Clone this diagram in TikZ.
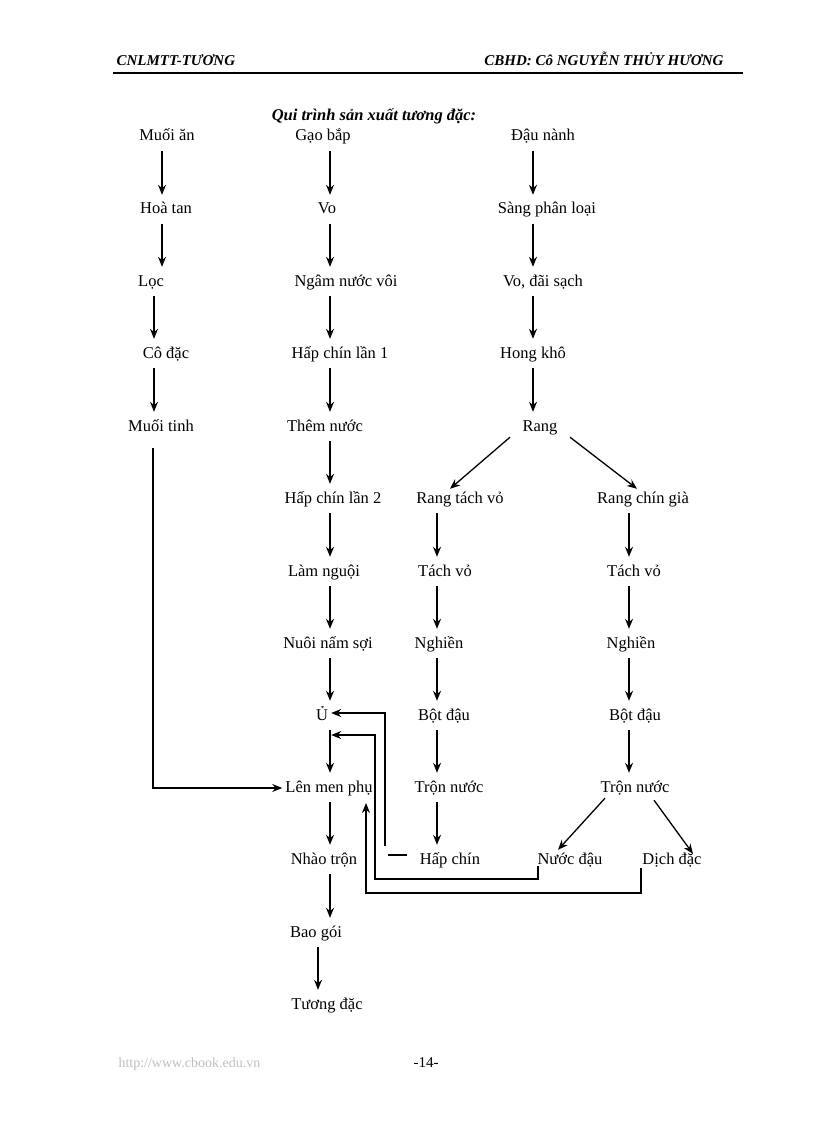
\documentclass[tikz,border=0pt]{standalone}
\usepackage{fontspec}
\setmainfont{Liberation Serif}
\usetikzlibrary{arrows.meta}
\begin{document}
\begin{tikzpicture}[x=1pt,y=-1pt,
 t/.style={font=\fontsize{16.5}{18}\selectfont,inner sep=0pt,text height=12pt,text depth=4pt,inner ysep=4pt},
 arr/.style={-{Stealth[length=10pt,width=8pt]},line width=1.3pt,shorten <=2pt,shorten >=3pt},
 ln/.style={line width=1.3pt}]
\useasboundingbox (0,0) rectangle (816,1123);
\node[font=\fontsize{15}{17}\selectfont\bfseries\itshape,anchor=base west] (h1) at (113,66) {CNLMTT-TƯƠNG};
\node[font=\fontsize{15}{17}\selectfont\bfseries\itshape,anchor=base east] (h2) at (727,66) {CBHD: Cô NGUYỄN THỦY HƯƠNG};
\draw[line width=1.2pt] (113,73) -- (743,73);
\node[font=\fontsize{16.5}{18}\selectfont\bfseries\itshape] (ti) at (374,116) {Qui trình sản xuất tương đặc:};
% col1
\node[t] (a1) at (167,137) {Muối ăn};
\node[t] (a2) at (166,210) {Hoà tan};
\node[t] (a3) at (151,282) {Lọc};
\node[t] (a4) at (166,354) {Cô đặc};
\node[t] (a5) at (161,427) {Muối tinh};
% col2
\node[t] (b1) at (323,137) {Gạo bắp};
\node[t] (b2) at (327,210) {Vo};
\node[t] (b3) at (346,282) {Ngâm nước vôi};
\node[t] (b4) at (340,354) {Hấp chín lần 1};
\node[t] (b5) at (325,427) {Thêm nước};
\node[t] (b6) at (333,499) {Hấp chín lần 2};
\node[t] (b7) at (324,572) {Làm nguội};
\node[t] (b8) at (328,644) {Nuôi nấm sợi};
\node[t] (b9) at (322,716) {Ủ};
\node[t] (b10) at (329,788) {Lên men phụ};
\node[t] (b11) at (324,860) {Nhào trộn};
\node[t] (b12) at (316,933) {Bao gói};
\node[t] (b13) at (327,1005) {Tương đặc};
% col3
\node[t] (c1) at (543,137) {Đậu nành};
\node[t] (c2) at (547,210) {Sàng phân loại};
\node[t] (c3) at (543,282) {Vo, đãi sạch};
\node[t] (c4) at (533,354) {Hong khô};
\node[t] (c5) at (540,427) {Rang};
\node[t] (d1) at (460,499) {Rang tách vỏ};
\node[t] (d2) at (445,572) {Tách vỏ};
\node[t] (d3) at (439,644) {Nghiền};
\node[t] (d4) at (444,716) {Bột đậu};
\node[t] (d5) at (449,788) {Trộn nước};
\node[t] (d6) at (450,860) {Hấp chín};
\node[t] (e1) at (643,499) {Rang chín già};
\node[t] (e2) at (634,572) {Tách vỏ};
\node[t] (e3) at (631,644) {Nghiền};
\node[t] (e4) at (635,716) {Bột đậu};
\node[t] (e5) at (635,788) {Trộn nước};
\node[t] (f1) at (570,860) {Nước đậu};
\node[t] (f2) at (672,860) {Dịch đặc};
% arrow columns
\coordinate (xa) at (162,0);
\coordinate (xa2) at (154,0);
\coordinate (xb) at (330,0);
\coordinate (xb2) at (318,0);
\coordinate (xc) at (533,0);
\coordinate (xd) at (437,0);
\coordinate (xe) at (629,0);
\foreach \u/\v/\c in {a1/a2/xa,a2/a3/xa,a3/a4/xa2,a4/a5/xa2,
 b1/b2/xb,b2/b3/xb,b3/b4/xb,b4/b5/xb,b5/b6/xb,b6/b7/xb,b7/b8/xb,b8/b9/xb,b9/b10/xb,b10/b11/xb,b11/b12/xb,b12/b13/xb2,
 c1/c2/xc,c2/c3/xc,c3/c4/xc,c4/c5/xc,
 d1/d2/xd,d2/d3/xd,d3/d4/xd,d4/d5/xd,d5/d6/xd,
 e1/e2/xe,e2/e3/xe,e3/e4/xe,e4/e5/xe}
 \draw[arr] (\u.south -| \c) -- (\v.north -| \c);
\draw[arr,shorten <=0pt,shorten >=0pt] ([xshift=-30pt,yshift=2pt]c5.south) -- ([xshift=-10pt,yshift=-2pt]d1.north);
\draw[arr,shorten <=0pt,shorten >=0pt] ([xshift=30pt,yshift=2pt]c5.south) -- ([xshift=-6pt,yshift=-2pt]e1.north);
\draw[arr,shorten <=0pt,shorten >=0pt] ([xshift=-30pt,yshift=2pt]e5.south) -- ([xshift=-12pt,yshift=-2pt]f1.north);
\draw[arr,shorten <=0pt,shorten >=0pt] ([xshift=19pt,yshift=0pt]e5.south) -- ([xshift=21pt,yshift=-6pt]f2.north);
% feedback lines
\coordinate (m1) at (153,448);
\draw[arr,shorten <=0pt] (m1) |- (b10.west);
\coordinate (h0) at (407,855);
\draw[ln] (h0) -- (388,855);
\draw[arr,shorten <=0pt] (385,846) -- (385,713) -- (b9.east |- 0,713);
\coordinate (n0) at (538,866);
\draw[arr,shorten <=0pt] (n0) -- (538,879) -- (375,879) -- (375,735) -- (b9.east |- 0,735);
\coordinate (g0) at (641,868);
\draw[arr,shorten <=0pt,shorten >=0pt] (g0) -- (641,893) -- (366,893) -- (366,803);
% footer
\node[font=\fontsize{14}{16}\selectfont,text=black!25,anchor=base west] (u) at (115,1067) {http://www.cbook.edu.vn};
\node[font=\fontsize{15}{17}\selectfont,anchor=base] (p) at (426,1067) {-14-};
\end{tikzpicture}
\end{document}
